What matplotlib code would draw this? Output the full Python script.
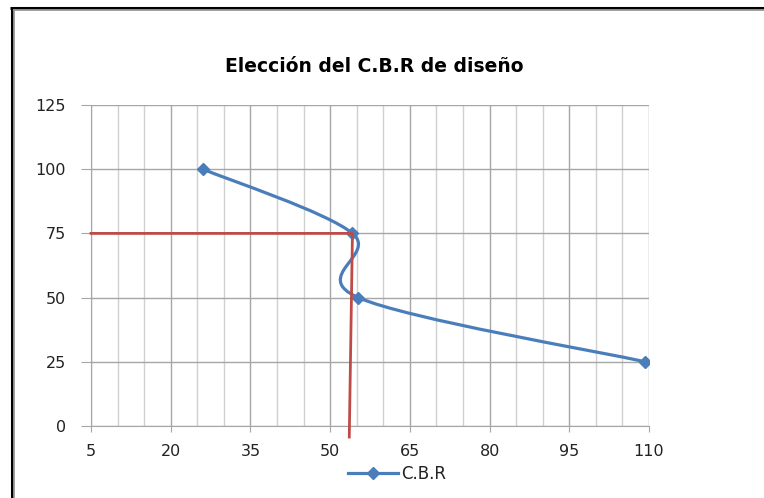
import matplotlib
matplotlib.use("Agg")
import matplotlib.pyplot as plt
from matplotlib.path import Path
from matplotlib.patches import PathPatch
from matplotlib.lines import Line2D
import numpy as np

# Datos
cbr_x = [26.1, 54.2, 55.3, 109.3]
cbr_y = [100, 75, 50, 25]

# Lineas de seleccion (rojo)
sel_x = [5, 54.2, 53.6]
sel_y = [75, 75, -4.3]

x_ticks = list(range(5, 111, 15))
y_ticks = list(range(0, 126, 25))

BLUE = "#4a7ebb"
RED = "#be4b48"

fig = plt.figure(figsize=(7.64, 4.98), dpi=100)
ax = fig.add_axes([91 / 764, 1 - 426 / 498, (649 - 91) / 764, (426 - 105) / 498])

# Curva suavizada tipo Excel (Bezier con puntos de control Catmull-Rom)
pts = np.column_stack([cbr_x, cbr_y]).astype(float)
verts = [pts[0]]
codes = [Path.MOVETO]
for i in range(len(pts) - 1):
    p0 = pts[i - 1] if i > 0 else pts[i]
    p1 = pts[i]
    p2 = pts[i + 1]
    p3 = pts[i + 2] if i + 2 < len(pts) else pts[i + 1]
    c1 = p1 + (p2 - p0) / 6
    c2 = p2 - (p3 - p1) / 6
    verts += [c1, c2, p2]
    codes += [Path.CURVE4] * 3
ax.add_patch(PathPatch(Path(verts, codes), facecolor="none", edgecolor=BLUE,
                       lw=2.3, zorder=3, capstyle="round"))
ax.plot(cbr_x, cbr_y, linestyle="none", marker="D", ms=6.5, color=BLUE, zorder=4)

ax.plot(sel_x, sel_y, color=RED, lw=2, zorder=5, clip_on=False)

ax.set_xlim(5, 110)
ax.set_ylim(0, 125)
ax.set_xticks(x_ticks)
ax.set_xticks(range(5, 111, 5), minor=True)
ax.set_yticks(y_ticks)
ax.grid(True, which="major", color="#a6a6a6", lw=1)
ax.grid(True, which="minor", axis="x", color="#d0d0d0", lw=1)
ax.set_axisbelow(True)
for s in ["top", "right"]:
    ax.spines[s].set_visible(False)
for s in ["left", "bottom"]:
    ax.spines[s].set_color("#a6a6a6")
ax.tick_params(axis="x", which="major", length=4, color="#a6a6a6", labelsize=11.5,
               pad=9, labelcolor="#222222")
ax.tick_params(axis="x", which="minor", length=0)
ax.tick_params(axis="y", length=7, color="#a6a6a6", labelsize=11.5, pad=11,
               labelcolor="#222222")

fig.text(374 / 764, 1 - 67 / 498, "Elección del C.B.R de diseño",
         ha="center", va="center", fontsize=13.5, fontweight="bold", family="DejaVu Sans")

handle = Line2D([], [], color=BLUE, lw=2.3, marker="D", ms=6.5)
fig.legend([handle], ["C.B.R"], loc="center", bbox_to_anchor=(397 / 764, 1 - 474 / 498),
           frameon=False, fontsize=12, handlelength=3.0, handletextpad=0.15,
           labelcolor="#222222")

# Marco del grafico
fig.add_artist(Line2D([11.5 / 764, 11.5 / 764], [0, 1 - 8 / 498], color="black", lw=2.2,
                      transform=fig.transFigure, solid_capstyle="butt"))
fig.add_artist(Line2D([14 / 764, 14 / 764], [0, 1 - 10 / 498], color="#999999", lw=1.3,
                      transform=fig.transFigure, solid_capstyle="butt"))
fig.add_artist(Line2D([10 / 764, 1], [1 - 8 / 498, 1 - 8 / 498], color="black", lw=2.2,
                      transform=fig.transFigure, solid_capstyle="butt"))
fig.add_artist(Line2D([13 / 764, 1], [1 - 10.5 / 498, 1 - 10.5 / 498], color="#999999", lw=1.3,
                      transform=fig.transFigure, solid_capstyle="butt"))

fig.savefig("out.png", dpi=100)
